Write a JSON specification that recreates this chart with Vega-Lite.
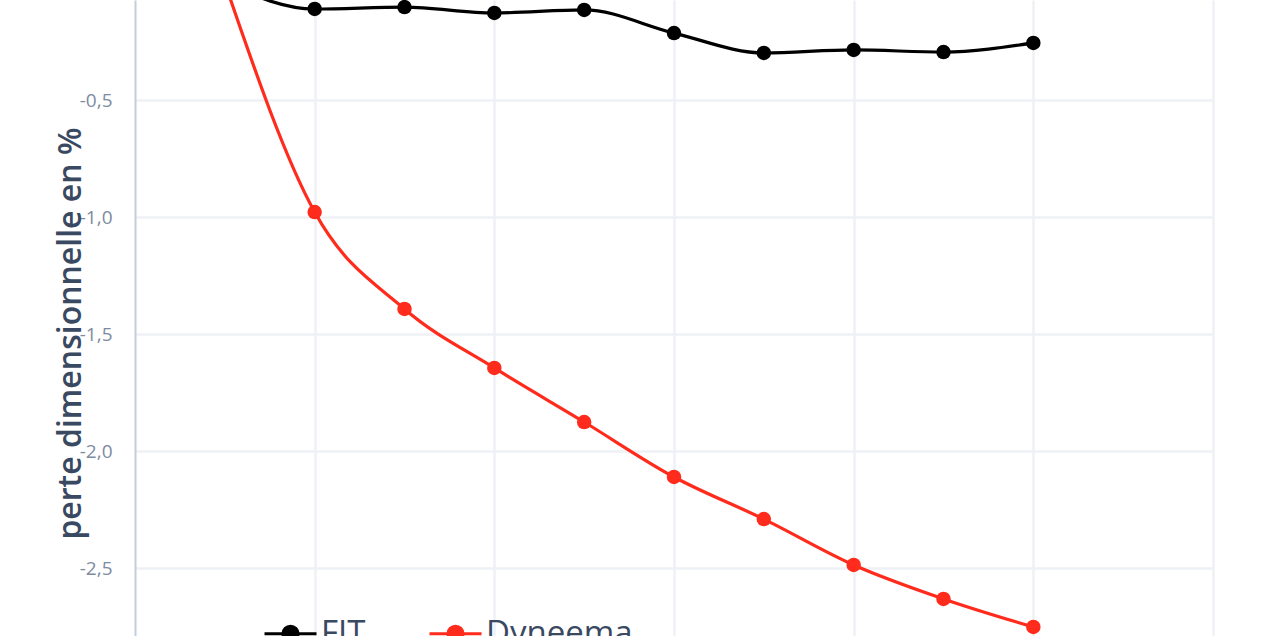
{
  "$schema": "https://vega.github.io/schema/vega-lite/v6.json",
  "autosize": {"type": "none"},
  "padding": {"left": 135, "top": 0, "right": 59, "bottom": 0},
  "width": 1078,
  "height": 636,
  "background": "white",
  "config": {
    "view": {"stroke": null},
    "font": "Open Sans"
  },
  "data": {
    "values": [
      {"t": 1, "serie": "FIT", "perte": 0.0},
      {"t": 2, "serie": "FIT", "perte": -0.111},
      {"t": 3, "serie": "FIT", "perte": -0.103},
      {"t": 4, "serie": "FIT", "perte": -0.128},
      {"t": 5, "serie": "FIT", "perte": -0.115},
      {"t": 6, "serie": "FIT", "perte": -0.214},
      {"t": 7, "serie": "FIT", "perte": -0.299},
      {"t": 8, "serie": "FIT", "perte": -0.286},
      {"t": 9, "serie": "FIT", "perte": -0.295},
      {"t": 10, "serie": "FIT", "perte": -0.256},
      {"t": 1, "serie": "Dyneema", "perte": 0.0},
      {"t": 2, "serie": "Dyneema", "perte": -0.979},
      {"t": 3, "serie": "Dyneema", "perte": -1.393},
      {"t": 4, "serie": "Dyneema", "perte": -1.645},
      {"t": 5, "serie": "Dyneema", "perte": -1.876},
      {"t": 6, "serie": "Dyneema", "perte": -2.111},
      {"t": 7, "serie": "Dyneema", "perte": -2.291},
      {"t": 8, "serie": "Dyneema", "perte": -2.487},
      {"t": 9, "serie": "Dyneema", "perte": -2.632},
      {"t": 10, "serie": "Dyneema", "perte": -2.752}
    ]
  },
  "mark": {
    "type": "line",
    "interpolate": "monotone",
    "strokeWidth": 3.2,
    "clip": true,
    "point": {"filled": true, "size": 210, "opacity": 1}
  },
  "encoding": {
    "x": {
      "field": "t",
      "type": "quantitative",
      "scale": {"domain": [0, 12], "nice": false, "zero": false},
      "axis": {
        "values": [2, 4, 6, 8, 10, 12],
        "labels": false,
        "ticks": false,
        "domain": false,
        "title": null,
        "grid": true,
        "gridColor": "#eef1f6",
        "gridWidth": 2.5
      }
    },
    "y": {
      "field": "perte",
      "type": "quantitative",
      "scale": {"domain": [-2.7905, -0.0726], "nice": false, "zero": false},
      "axis": {
        "values": [-2.5, -2.0, -1.5, -1.0, -0.5],
        "labelExpr": "'-' + replace(format(abs(datum.value), '.1f'), '.', ',')",
        "labelFontSize": 19,
        "labelColor": "#7d8ba0",
        "labelPadding": 23,
        "ticks": false,
        "domain": true,
        "domainColor": "#c3cedd",
        "domainWidth": 2,
        "grid": true,
        "gridColor": "#eef1f6",
        "gridWidth": 2.5,
        "title": "perte dimensionnelle en %",
        "titleFontSize": 32,
        "titleFontWeight": 600,
        "titleColor": "#3a4962",
        "titleAngle": 270,
        "titleAlign": "center",
        "titleBaseline": "alphabetic",
        "titleX": -55,
        "titleY": 333
      }
    },
    "color": {
      "field": "serie",
      "type": "nominal",
      "scale": {"domain": ["FIT", "Dyneema"], "range": ["#000000", "#ff2b1c"]},
      "legend": {
        "title": null,
        "orient": "none",
        "direction": "horizontal",
        "legendX": 128,
        "legendY": 606,
        "padding": 0,
        "symbolType": "M-1,0H1M-0.29,0A0.29,0.29,0,1,0,0.29,0A0.29,0.29,0,1,0,-0.29,0Z",
        "symbolSize": 2704,
        "symbolStrokeWidth": 3,
        "labelFontSize": 33,
        "labelColor": "#3a4962",
        "labelOffset": 3,
        "columnPadding": 57,
        "encode": {
          "symbols": {"update": {
            "fill": {"scale": "color", "field": "value"},
            "fillOpacity": {"value": 1},
            "stroke": {"scale": "color", "field": "value"},
            "strokeWidth": {"value": 3},
            "strokeOpacity": {"value": 1}
          }}
        }
      }
    }
  }
}
